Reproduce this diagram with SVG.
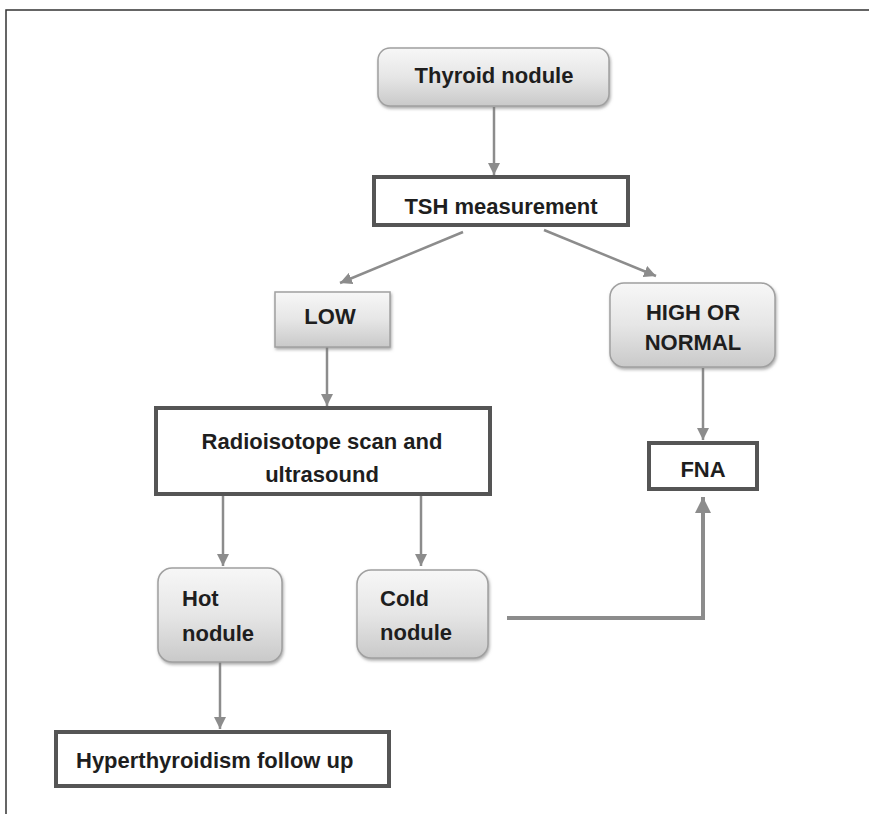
<svg xmlns="http://www.w3.org/2000/svg" width="869" height="814" viewBox="0 0 869 814">
<defs>
<linearGradient id="g" x1="0" y1="0" x2="0" y2="1">
<stop offset="0" stop-color="#f7f7f7"/>
<stop offset="0.5" stop-color="#e6e6e6"/>
<stop offset="1" stop-color="#c9c9c9"/>
</linearGradient>
<marker id="ah" markerUnits="userSpaceOnUse" markerWidth="14" markerHeight="12" refX="12" refY="6" orient="auto">
<path d="M0,0 L12,6 L0,12 z" fill="#8c8c8c"/>
</marker>
<marker id="ahb" markerUnits="userSpaceOnUse" markerWidth="18" markerHeight="16" refX="16" refY="8" orient="auto">
<path d="M0,0 L16,8 L0,16 z" fill="#8c8c8c"/>
</marker>
<filter id="sh" x="-10%" y="-10%" width="130%" height="140%">
<feDropShadow dx="1" dy="2" stdDeviation="1.5" flood-color="#777" flood-opacity="0.6"/>
</filter>
</defs>
<style>
text{font-family:"Liberation Sans",Arial,sans-serif;font-weight:bold;font-size:22px;fill:#1e1e1e}
.c{text-anchor:middle}
.rb{fill:url(#g);stroke:#a0a0a0;stroke-width:1.5;filter:url(#sh)}
.bx{fill:#ffffff;stroke:#555555;stroke-width:4}
.ln{fill:none;stroke:#8c8c8c;stroke-width:2.5;marker-end:url(#ah)}
.lb{fill:none;stroke:#8c8c8c;stroke-width:4;marker-end:url(#ahb)}
</style>
<rect x="0" y="0" width="869" height="814" fill="#ffffff"/>
<path d="M6,814 V10 H869" fill="none" stroke="#333" stroke-width="1.5"/>
<g id="connectors">
<line class="ln" x1="494" y1="107" x2="494" y2="175"/>
<line class="ln" x1="463" y1="232" x2="340" y2="283"/>
<line class="ln" x1="544" y1="230" x2="656" y2="276"/>
<line class="ln" x1="327" y1="347" x2="327" y2="406"/>
<line class="ln" x1="703" y1="368" x2="703" y2="440"/>
<line class="ln" x1="223" y1="495" x2="223" y2="566"/>
<line class="ln" x1="421" y1="495" x2="421" y2="566"/>
<line class="ln" x1="220" y1="662" x2="220" y2="729"/>
<path class="lb" d="M507,618 H703 V497"/>
</g>
<g id="thyroid">
<rect class="rb" x="378" y="48" width="231" height="58" rx="12"/>
<text class="c" x="494" y="83">Thyroid nodule</text>
</g>
<g id="tsh">
<rect class="bx" x="374" y="177" width="254" height="48"/>
<text class="c" x="501" y="214">TSH measurement</text>
</g>
<g id="low">
<rect class="rb" x="275" y="292" width="115" height="55"/>
<text class="c" x="330" y="324">LOW</text>
</g>
<g id="high">
<rect class="rb" x="610" y="283" width="165" height="84" rx="14"/>
<text class="c" x="693" y="320">HIGH OR</text>
<text class="c" x="693" y="350">NORMAL</text>
</g>
<g id="radio">
<rect class="bx" x="156" y="408" width="334" height="86"/>
<text class="c" x="322" y="449">Radioisotope scan and</text>
<text class="c" x="322" y="482">ultrasound</text>
</g>
<g id="fna">
<rect class="bx" x="649" y="443" width="108" height="46"/>
<text class="c" x="703" y="477">FNA</text>
</g>
<g id="hot">
<rect class="rb" x="158" y="568" width="124" height="94" rx="14"/>
<text x="182" y="606">Hot</text>
<text x="182" y="641">nodule</text>
</g>
<g id="cold">
<rect class="rb" x="357" y="570" width="131" height="88" rx="14"/>
<text x="380" y="606">Cold</text>
<text x="380" y="640">nodule</text>
</g>
<g id="hyper">
<rect class="bx" x="56" y="732" width="333" height="54"/>
<text x="76" y="768">Hyperthyroidism follow up</text>
</g>
</svg>
